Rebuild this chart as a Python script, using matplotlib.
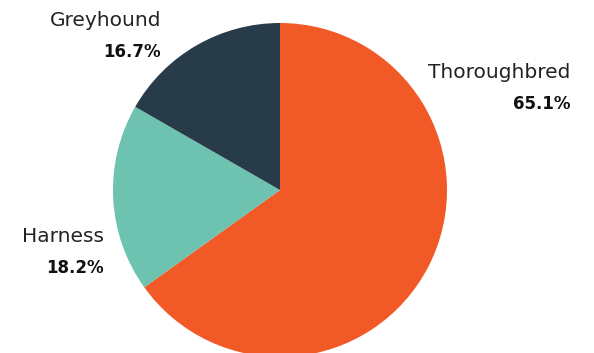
import matplotlib
matplotlib.use("Agg")
import matplotlib.pyplot as plt

labels = ["Thoroughbred", "Harness", "Greyhound"]
shares = [65.1, 18.2, 16.7]
colors = ["#F15A27", "#6DC2B0", "#283B48"]

# label anchor points (right edge, pixel coords from top-left)
label_xy = [(570, 72), (104, 236), (161, 20)]

W, H = 594, 353
fig = plt.figure(figsize=(W / 100, H / 100), dpi=100)
ax = fig.add_axes([0, 0, 1, 1])

ax.pie(shares, colors=colors, startangle=90, counterclock=False,
       center=(280, H - 190), radius=167,
       wedgeprops=dict(linewidth=0))

# pie() rescales the axes, so fix the pixel-sized frame afterwards
ax.set_xlim(0, W)
ax.set_ylim(0, H)
ax.set_aspect("equal")
ax.axis("off")

for name, val, (x, y) in zip(labels, shares, label_xy):
    ax.text(x, H - y, name, ha="right", va="center", fontsize=14.5,
            family="DejaVu Sans", color="#222222")
    ax.text(x, H - y - 32, "%.1f%%" % val, ha="right", va="center",
            fontsize=12, family="DejaVu Sans", fontweight="bold",
            color="#111111")

fig.savefig("out.png", dpi=100)
